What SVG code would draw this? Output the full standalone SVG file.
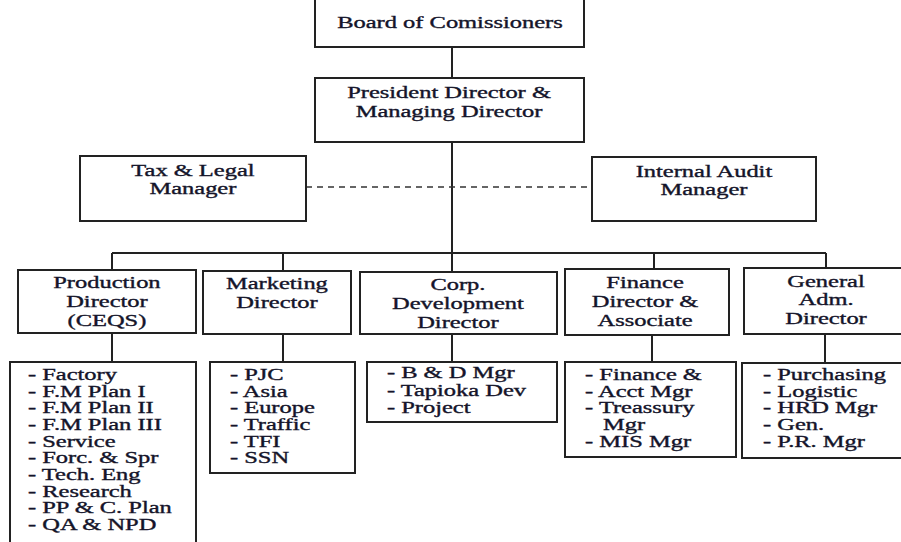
<svg xmlns="http://www.w3.org/2000/svg" width="901" height="542" viewBox="0 0 901 542">
<style>
rect{fill:#fff;stroke:#222;stroke-width:2}
.c{fill:none;stroke:#222;stroke-width:2}
.d{fill:none;stroke:#333;stroke-width:1.6;stroke-dasharray:6 5}
text{font-family:"Liberation Serif","Times New Roman",serif;font-size:16px;fill:#14142a;stroke:#14142a;stroke-width:0.35}
.m{text-anchor:middle}
</style>
<rect x="-5" y="-5" width="911" height="552" style="fill:#fff;stroke:none"/>
<g id="connectors">
<path class="c" d="M452 47V78M452 142V272M112 253H826M112 253V270M283 253V271M654 253V269M826 253V270"/>
<path class="c" d="M112 333V362M283 334V362M452 334V361M652 335V362M825 334V363"/>
<path class="d" d="M306 187H592"/>
</g>
<g id="board">
<rect x="315" y="-10" width="269" height="57"/>
<text class="m" transform="scale(1.53,1)" x="294.1" y="28">Board of Comissioners</text>
</g>
<g id="president">
<rect x="315" y="78" width="269" height="64"/>
<text class="m" transform="scale(1.53,1)" x="293.5" y="98">President Director &amp;</text>
<text class="m" transform="scale(1.53,1)" x="293.5" y="117">Managing Director</text>
</g>
<g id="tax">
<rect x="80" y="156" width="226" height="65"/>
<text class="m" transform="scale(1.53,1)" x="126.1" y="176">Tax &amp; Legal</text>
<text class="m" transform="scale(1.53,1)" x="126.1" y="194">Manager</text>
</g>
<g id="audit">
<rect x="592" y="157" width="224" height="64"/>
<text class="m" transform="scale(1.53,1)" x="460.1" y="177">Internal Audit</text>
<text class="m" transform="scale(1.53,1)" x="460.1" y="195">Manager</text>
</g>
<g id="production">
<rect x="18" y="270" width="178" height="63"/>
<text class="m" transform="scale(1.53,1)" x="69.9" y="288">Production</text>
<text class="m" transform="scale(1.53,1)" x="69.9" y="307">Director</text>
<text class="m" transform="scale(1.53,1)" x="69.9" y="326">(CEQS)</text>
</g>
<g id="marketing">
<rect x="203" y="271" width="148" height="63"/>
<text class="m" transform="scale(1.53,1)" x="181" y="289">Marketing</text>
<text class="m" transform="scale(1.53,1)" x="181" y="308">Director</text>
</g>
<g id="corp">
<rect x="360" y="272" width="197" height="62"/>
<text class="m" transform="scale(1.53,1)" x="299.3" y="290">Corp.</text>
<text class="m" transform="scale(1.53,1)" x="299.3" y="309">Development</text>
<text class="m" transform="scale(1.53,1)" x="299.3" y="328">Director</text>
</g>
<g id="finance">
<rect x="565" y="269" width="164" height="66"/>
<text class="m" transform="scale(1.53,1)" x="421.6" y="288">Finance</text>
<text class="m" transform="scale(1.53,1)" x="421.6" y="307">Director &amp;</text>
<text class="m" transform="scale(1.53,1)" x="421.6" y="326">Associate</text>
</g>
<g id="general">
<rect x="744" y="268" width="165" height="66"/>
<text class="m" transform="scale(1.53,1)" x="539.9" y="287">General</text>
<text class="m" transform="scale(1.53,1)" x="539.9" y="305">Adm.</text>
<text class="m" transform="scale(1.53,1)" x="539.9" y="324">Director</text>
</g>
<g id="production-units">
<rect x="10" y="362" width="186" height="190"/>
<text transform="scale(1.53,1)" x="18.3" y="380">- Factory</text>
<text transform="scale(1.53,1)" x="18.3" y="396.7">- F.M Plan I</text>
<text transform="scale(1.53,1)" x="18.3" y="413.3">- F.M Plan II</text>
<text transform="scale(1.53,1)" x="18.3" y="430">- F.M Plan III</text>
<text transform="scale(1.53,1)" x="18.3" y="446.7">- Service</text>
<text transform="scale(1.53,1)" x="18.3" y="463.3">- Forc. &amp; Spr</text>
<text transform="scale(1.53,1)" x="18.3" y="480">- Tech. Eng</text>
<text transform="scale(1.53,1)" x="18.3" y="496.7">- Research</text>
<text transform="scale(1.53,1)" x="18.3" y="513.3">- PP &amp; C. Plan</text>
<text transform="scale(1.53,1)" x="18.3" y="530">- QA &amp; NPD</text>
</g>
<g id="marketing-units">
<rect x="210" y="362" width="145" height="111"/>
<text transform="scale(1.53,1)" x="150.3" y="380">- PJC</text>
<text transform="scale(1.53,1)" x="150.3" y="396.7">- Asia</text>
<text transform="scale(1.53,1)" x="150.3" y="413.3">- Europe</text>
<text transform="scale(1.53,1)" x="150.3" y="430">- Traffic</text>
<text transform="scale(1.53,1)" x="150.3" y="446.7">- TFI</text>
<text transform="scale(1.53,1)" x="150.3" y="463.3">- SSN</text>
</g>
<g id="corp-units">
<rect x="367" y="362" width="190" height="60"/>
<text transform="scale(1.53,1)" x="252.9" y="378">- B &amp; D Mgr</text>
<text transform="scale(1.53,1)" x="252.9" y="396">- Tapioka Dev</text>
<text transform="scale(1.53,1)" x="252.9" y="413">- Project</text>
</g>
<g id="finance-units">
<rect x="565" y="362" width="171" height="95"/>
<text transform="scale(1.53,1)" x="382.4" y="380">- Finance &amp;</text>
<text transform="scale(1.53,1)" x="382.4" y="396.7">- Acct Mgr</text>
<text transform="scale(1.53,1)" x="382.4" y="413.3">- Treassury</text>
<text transform="scale(1.53,1)" x="394.1" y="430">Mgr</text>
<text transform="scale(1.53,1)" x="382.4" y="446.7">- MIS Mgr</text>
</g>
<g id="general-units">
<rect x="742" y="363" width="167" height="95"/>
<text transform="scale(1.53,1)" x="498.7" y="380">- Purchasing</text>
<text transform="scale(1.53,1)" x="498.7" y="396.7">- Logistic</text>
<text transform="scale(1.53,1)" x="498.7" y="413.3">- HRD Mgr</text>
<text transform="scale(1.53,1)" x="498.7" y="430">- Gen.</text>
<text transform="scale(1.53,1)" x="498.7" y="446.7">- P.R. Mgr</text>
</g>
</svg>
